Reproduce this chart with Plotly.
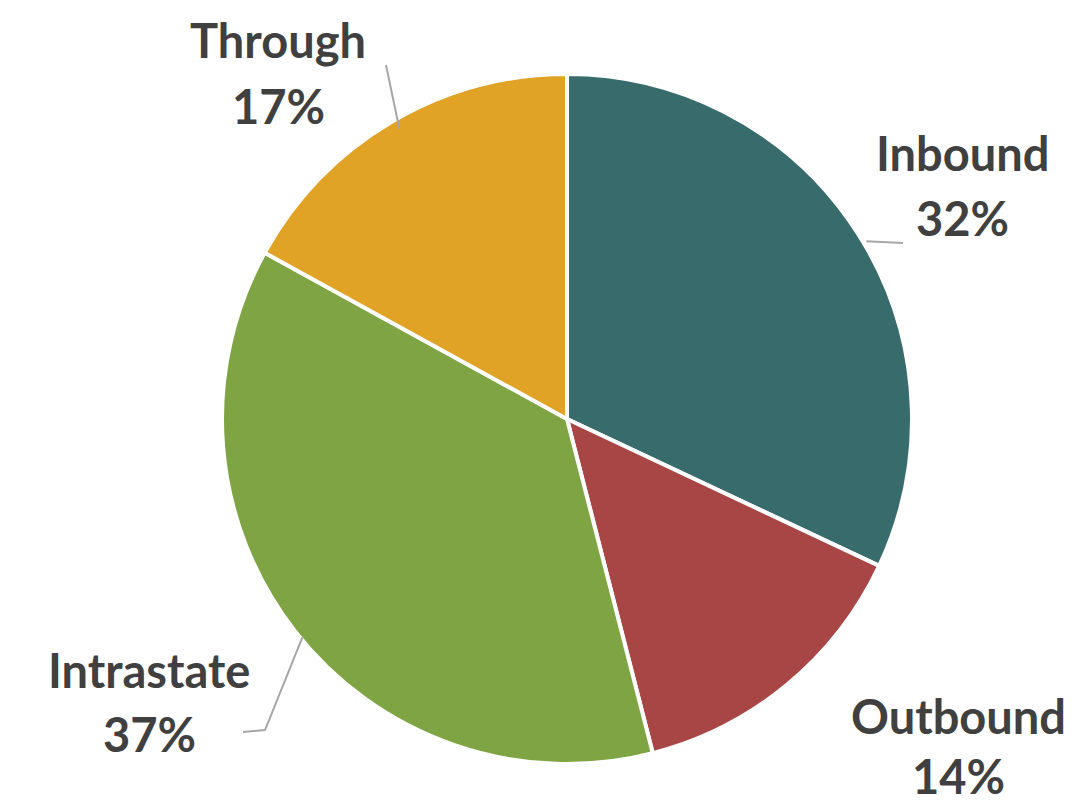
import math
import plotly.graph_objects as go

# data
labels = ["Inbound", "Outbound", "Intrastate", "Through"]
values = [32, 14, 37, 17]
colors = ["#386B6B", "#A84545", "#7FA443", "#E1A326"]

W, H = 1077, 804
cx, cy, r = 567, 418, 345   # pie centre / radius in pixels
dx, dy = -8, -7             # plotly draws the pie a bit off its domain centre

fig = go.Figure(go.Pie(
    labels=labels,
    values=values,
    sort=False,
    direction="clockwise",
    rotation=0,
    textinfo="none",
    hoverinfo="label+percent",
    marker=dict(colors=colors, line=dict(color="white", width=4)),
    domain=dict(x=[(cx + dx - r) / W, (cx + dx + r) / W],
                y=[1 - (cy + dy + r) / H, 1 - (cy + dy - r) / H]),
    showlegend=False,
))

# label block positions (pixels: centre x, name line y, percent line y)
label_pos = {
    "Inbound": (954, 145, 210),
    "Outbound": (950, 708, 768),
    "Intrastate": (141, 662, 726),
    "Through": (270, 32, 98),
}

font = dict(family="Lato", size=47, color="#404040")
annotations = []
for lab, v in zip(labels, values):
    x, y1, y2 = label_pos[lab]
    for yy, txt in ((y1, lab), (y2, "%d%%" % v)):
        annotations.append(dict(x=x / W, y=1 - yy / H, xref="paper", yref="paper",
                                xanchor="center", yanchor="middle",
                                text="<b>%s</b>" % txt, showarrow=False, font=font))

# leader lines from slice mid-angle on the rim
total = sum(values)
cum = 0
mids = {}
for lab, v in zip(labels, values):
    mids[lab] = (cum + v / 2) / total * 2 * math.pi
    cum += v

def rim(lab):
    a = mids[lab]
    return cx + r * math.sin(a), cy - r * math.cos(a)

leaders = {
    "Inbound": [(895, 235)],
    "Through": [(378, 57)],
    "Intrastate": [(257, 722), (235, 724)],
}
shapes = []
for lab, pts in leaders.items():
    p = [rim(lab)] + pts
    path = "M %f %f " % (p[0][0] / W, 1 - p[0][1] / H)
    for px, py in p[1:]:
        path += "L %f %f " % (px / W, 1 - py / H)
    shapes.append(dict(type="path", path=path, xref="paper", yref="paper",
                       line=dict(color="#A6A6A6", width=2)))

fig.update_layout(
    width=W, height=H,
    margin=dict(l=0, r=0, t=0, b=0),
    paper_bgcolor="white",
    plot_bgcolor="white",
    annotations=annotations,
    shapes=shapes,
)

fig.write_html("out.html")
